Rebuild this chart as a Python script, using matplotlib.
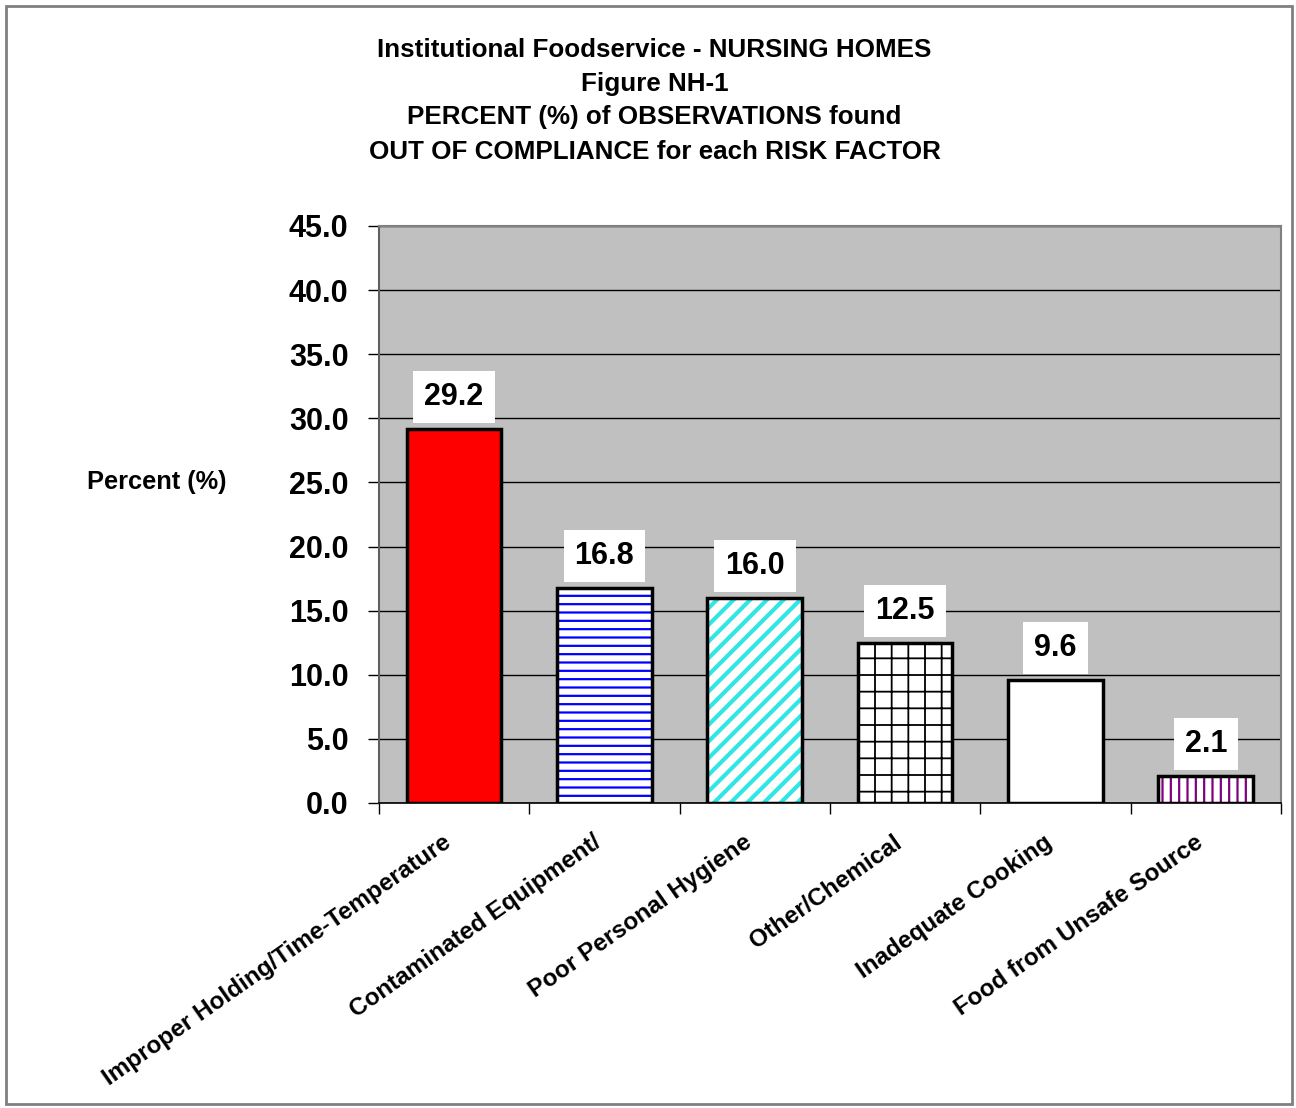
import matplotlib.pyplot as plt
from matplotlib.patches import Rectangle
from matplotlib.transforms import ScaledTranslation
import numpy as np

plt.rcParams['font.family'] = ['Liberation Sans', 'DejaVu Sans']
plt.rcParams['font.weight'] = 'bold'

# Data
categories = ["Improper Holding/Time-Temperature", "Contaminated Equipment/",
              "Poor Personal Hygiene", "Other/Chemical", "Inadequate Cooking",
              "Food from Unsafe Source"]
percent = [29.2, 16.8, 16.0, 12.5, 9.6, 2.1]
title_lines = ["Institutional Foodservice - NURSING HOMES", "Figure NH-1",
               "PERCENT (%) of OBSERVATIONS found",
               "OUT OF COMPLIANCE for each RISK FACTOR"]

# bar styles: (face, hatch, hatch color, hatch width)
styles = [
    ('#FF0000', None, None, 1.0),
    ('white', '--', '#0000FF', 1.6),
    ('white', '//', '#33E6E6', 3.0),
    ('white', '+', 'black', 1.3),
    ('white', None, None, 1.0),
    ('white', '||', '#800080', 1.6),
]

fig = plt.figure(figsize=(12.96, 11.08), dpi=100)
ax = fig.add_axes([0.2924, 0.2753, 0.696, 0.5208])
ax.set_facecolor('#C0C0C0')

x = np.arange(len(categories))
w = 0.63
for i, (face, hatch, hcol, hlw) in enumerate(styles):
    plt.rcParams['hatch.linewidth'] = hlw
    if hatch:
        ax.bar(x[i], percent[i], w, color=face, hatch=hatch, edgecolor=hcol,
               linewidth=0, zorder=3)
    else:
        ax.bar(x[i], percent[i], w, color=face, linewidth=0, zorder=3)
    ax.bar(x[i], percent[i], w, fill=False, edgecolor='black', linewidth=2.5,
           zorder=4)

# value labels in white boxes
for xi, v in zip(x, percent):
    ax.annotate(f"{v:.1f}", (xi, v), xytext=(0, 23), textcoords='offset points',
                ha='center', va='center', fontsize=22, fontweight='bold',
                bbox=dict(boxstyle='square,pad=0.36', fc='white', ec='none'),
                zorder=5)

ax.set_ylim(0, 45)
ax.set_xlim(-0.5, len(categories) - 0.5)
ax.set_yticks(np.arange(0, 46, 5))
ax.set_yticklabels([f"{t:.1f}" for t in np.arange(0, 46, 5)], fontsize=22,
                   fontweight='bold')
ax.yaxis.grid(True, color='black', linewidth=1.0, zorder=1)
ax.set_axisbelow(True)
ax.tick_params(axis='y', length=8, width=1, pad=14, direction='out')

ax.set_xticks(x)
ax.set_xticklabels(categories, rotation=35, ha='right', rotation_mode='anchor',
                   fontsize=17.5, fontweight='bold')
ax.tick_params(axis='x', which='major', length=0, pad=20)
shift = ScaledTranslation(-0.12, 0, fig.dpi_scale_trans)
for lbl in ax.get_xticklabels():
    lbl.set_transform(lbl.get_transform() + shift)
ax.set_xticks(np.arange(-0.5, len(categories), 1), minor=True)
ax.tick_params(axis='x', which='minor', length=8, width=1, direction='out')

for s in ['top', 'right']:
    ax.spines[s].set_color('#808080')
    ax.spines[s].set_linewidth(1.5)
ax.spines['left'].set_color('#606060')
ax.spines['left'].set_linewidth(1.5)
ax.spines['bottom'].set_color('black')
ax.spines['bottom'].set_linewidth(1.2)

ys = [0.955, 0.924, 0.894, 0.863]
for line, yy in zip(title_lines, ys):
    fig.text(0.505, yy, line, ha='center', va='center', fontsize=18.7,
             fontweight='bold')

fig.text(0.121, 0.565, "Percent (%)", ha='center', va='center', fontsize=18.3,
         fontweight='bold')

fig.patches.append(Rectangle((0.005, 0.004), 0.992, 0.991, transform=fig.transFigure,
                             fill=False, edgecolor='#808080', linewidth=2))

fig.savefig('out.png', dpi=100)
